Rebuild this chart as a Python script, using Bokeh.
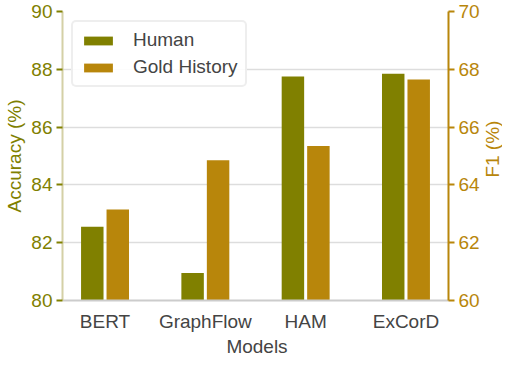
import math
from bokeh.plotting import figure
from bokeh.layouts import row, column
from bokeh.models import Range1d, LinearAxis, FixedTicker, Legend, LegendItem, ColumnDataSource
from bokeh.core.properties import value
from bokeh.transform import dodge
from bokeh.embed import file_html
from bokeh.resources import INLINE

models = ["BERT", "GraphFlow", "HAM", "ExCorD"]
human_acc = [82.55, 80.95, 87.75, 87.85]
gold_f1 = [63.15, 64.85, 65.35, 67.65]
acc_ticks = [80, 82, 84, 86, 88, 90]
f1_ticks = [60, 62, 64, 66, 68, 70]

OLIVE = "#808000"
GOLD = "#b8860b"
TXT = "#444444"
FONT = "Liberation Sans"
FS = "19px"

W_MAIN, H_MAIN = 482, 334
B_LEFT, B_RIGHT, B_TOP, B_BOTTOM = 62, 31, 11, 27
W_SIDE, H_BOTTOM = 20, 24

X0, X1 = -0.424, 3.424
xs = list(range(len(models)))
src = ColumnDataSource(dict(x=xs, human=human_acc, gold=gold_f1))

p = figure(width=W_MAIN, height=H_MAIN, output_backend="svg", toolbar_location=None,
           x_range=Range1d(X0, X1), y_range=Range1d(80, 90),
           min_border_left=B_LEFT, min_border_right=B_RIGHT,
           min_border_top=B_TOP, min_border_bottom=B_BOTTOM)
p.extra_y_ranges = {"f1": Range1d(60, 70)}
p.outline_line_color = None

h = p.vbar(x=dodge("x", -0.127), top="human", bottom=80, width=0.224, source=src,
           fill_color=OLIVE, line_color=None)
g = p.vbar(x=dodge("x", 0.127), top="gold", bottom=60, width=0.224, source=src,
           fill_color=GOLD, line_color=None, y_range_name="f1")

# grid
p.xgrid.visible = False
p.ygrid.ticker = FixedTicker(ticks=acc_ticks)
p.ygrid.grid_line_color = "#dddddd"
p.ygrid.grid_line_width = 1.5

# left axis
ya = p.yaxis[0]
ya.ticker = FixedTicker(ticks=acc_ticks)
ya.axis_label = "Accuracy (%)"
ya.axis_label_text_color = OLIVE
ya.axis_label_text_font = FONT
ya.axis_label_text_font_size = FS
ya.axis_label_text_font_style = "normal"
ya.axis_label_standoff = 3
ya.major_label_text_color = OLIVE
ya.major_label_text_font = FONT
ya.major_label_text_font_size = FS
ya.major_label_standoff = 4
ya.axis_line_color = "#d4d0a6"
ya.axis_line_width = 2
ya.major_tick_line_color = OLIVE
ya.major_tick_line_width = 2
ya.major_tick_in = 0
ya.major_tick_out = 6
ya.minor_tick_line_color = None

# right axis (title drawn in the side strip)
ra = LinearAxis(y_range_name="f1", ticker=FixedTicker(ticks=f1_ticks))
ra.major_label_text_color = GOLD
ra.major_label_text_font = FONT
ra.major_label_text_font_size = FS
ra.major_label_standoff = 4
ra.axis_line_color = GOLD
ra.axis_line_width = 2
ra.major_tick_line_color = GOLD
ra.major_tick_line_width = 2
ra.major_tick_in = 0
ra.major_tick_out = 6
ra.minor_tick_line_color = None
p.add_layout(ra, "right")

# bottom axis
xa = p.xaxis[0]
xa.ticker = FixedTicker(ticks=xs)
xa.major_label_overrides = {i: m for i, m in enumerate(models)}
xa.major_label_text_font = FONT
xa.major_label_text_font_size = FS
xa.major_label_text_color = TXT
xa.major_label_standoff = 4
xa.axis_line_color = "#cccccc"
xa.axis_line_width = 2
xa.major_tick_line_color = None
xa.minor_tick_line_color = None

legend = Legend(items=[LegendItem(label="Human", renderers=[h]),
                       LegendItem(label="Gold History", renderers=[g])],
                location="top_left")
legend.label_text_font = FONT
legend.label_text_font_size = FS
legend.label_text_color = TXT
legend.glyph_width = 36
legend.glyph_height = 11
legend.label_standoff = 17
legend.spacing = 5
legend.padding = 7
legend.margin = 9
legend.border_line_color = "#dddddd"
legend.border_line_width = 2
legend.border_radius = 5
legend.background_fill_alpha = 0.9
p.add_layout(legend)


def strip(w, h):
    f = figure(width=w, height=h, output_backend="svg", toolbar_location=None,
               x_range=Range1d(0, w), y_range=Range1d(0, h), min_border=0)
    f.axis.visible = False
    f.grid.visible = False
    f.outline_line_color = None
    return f


# right axis title, reading bottom-to-top
side = strip(W_SIDE, H_MAIN)
side.text(x=[W_SIDE / 2], y=[(B_BOTTOM + H_MAIN - B_TOP) / 2], text=["F1 (%)"], angle=math.pi / 2,
          text_align="center", text_baseline="middle", text_color=GOLD,
          text_font=value(FONT), text_font_size=value(FS))

# x axis title
bottom = strip(W_MAIN + W_SIDE, H_BOTTOM)
bottom.text(x=[(B_LEFT + W_MAIN - B_RIGHT) / 2], y=[H_BOTTOM / 2], text=["Models"],
            text_align="center", text_baseline="middle", text_color=TXT,
            text_font=value(FONT), text_font_size=value(FS))

layout = column(row(p, side, spacing=0), bottom, spacing=0)
open("out.html", "w").write(file_html(layout, INLINE))
